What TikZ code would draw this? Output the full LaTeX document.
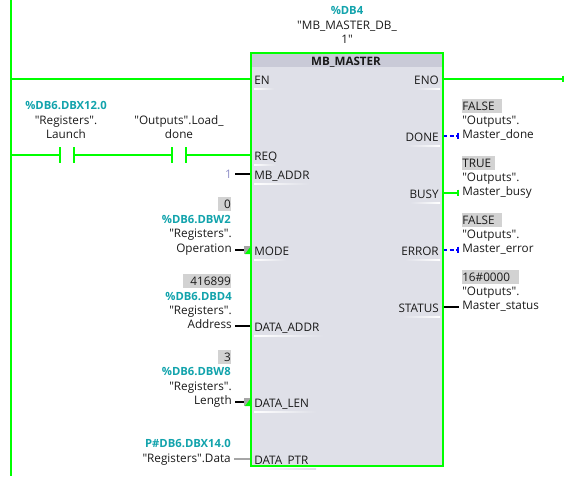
\documentclass[tikz,border=0pt]{standalone}
\usepackage{fontspec}
\setmainfont{Open Sans}[Ligatures=TeXOff]
\usetikzlibrary{arrows.meta}
\definecolor{rung}{HTML}{00FF00}
\definecolor{sig}{HTML}{0000FF}
\definecolor{ink}{HTML}{1A1A1A}
\definecolor{addr}{HTML}{12A3AC}
\definecolor{valgrey}{HTML}{D2D2D2}
\definecolor{fbhead}{HTML}{C9CAD7}
\definecolor{fbbody}{HTML}{DFE0E8}
\definecolor{wiregrey}{HTML}{A6A6A6}
\definecolor{constv}{HTML}{8F8FC8}
\tikzset{
  txt/.style={font=\fontsize{8.8}{10}\selectfont,ink,inner ysep=0pt,inner xsep=2.25pt,text height=8pt,text depth=1.5pt},
  adr/.style={addr,font=\fontsize{8.45}{10}\selectfont\bfseries},
  lft/.style={txt,anchor=east},
  rgt/.style={txt,anchor=west},
  mid/.style={txt,anchor=center},
  vall/.style={txt,anchor=east,fill=valgrey,inner xsep=0pt,minimum height=10.5pt,align=right},
  valr/.style={txt,anchor=west,fill=valgrey,inner xsep=0pt,minimum height=10.5pt,align=left},
  pinl/.style={txt,anchor=west,inner xsep=2.25pt},
  pinr/.style={txt,anchor=east,inner xsep=3pt},
  rungw/.style={rung,line width=1.5pt},
  boolw/.style={line width=1.5pt,-{Bar[width=5pt,line width=1.2pt]}},
  blackw/.style={black,line width=1.5pt},
  contact/.style={minimum width=10.5pt,minimum height=11.5pt,inner sep=0pt},
}
\begin{document}
\begin{tikzpicture}[x=.75pt,y=-.75pt,line cap=butt]
  \useasboundingbox (0,0) rectangle (574,476);

  % Function block body
  \fill[fbbody] (251,53) rectangle (443,466);
  \fill[fbhead] (251,53) rectangle (443,67);
  \node[mid,font=\fontsize{8.7}{10}\selectfont\bfseries] (fbtitle) at (346,61) {MB\_MASTER};
  \node[mid,adr] (dbnum) at (347,10) {\%DB4};
  \node[mid] (dbname) at (347,25) {"MB\_MASTER\_DB\_};
  \node[mid] (dbname2) at (347,39) {1"};

  % Pins, white strip under each label
  \foreach \nm/\lab/\y/\w in {EN/EN/80/20,REQ/REQ/156/22,ADDR/MB\_ADDR/175/55,MODE/MODE/251/32,
      DADDR/DATA\_ADDR/327/70,DLEN/DATA\_LEN/403/62,DPTR/DATA\_PTR/460/62}{
    \node[pinl] (pin\nm) at (251,\y) {\lab};
    \shade[left color=white,right color=fbbody] (254,\y+8) rectangle (254+\w,\y+9);
  }
  \foreach \nm/\lab/\y/\w in {ENO/ENO/80/24,DONE/DONE/137/33,BUSY/BUSY/194/30,ERROR/ERROR/251/35,STATUS/STATUS/308/38}{
    \node[pinr] (pin\nm) at (443,\y) {\lab};
    \shade[left color=fbbody,right color=white] (440-\w,\y+8) rectangle (440,\y+9);
  }

  % Power rail and rungs
  \draw[rungw] (11,0)--(11,476);
  \coordinate (railEN) at (11,79);
  \coordinate (railREQ) at (11,155);
  \coordinate (endENO) at (564,79);
  \draw[rungw] (railEN)--(pinEN.west|-railEN);
  \draw[boolw,rung] (pinENO.east|-endENO)--(endENO);

  \node[contact] (cLaunch) at (67,155) {};
  \node[contact] (cLoad) at (179,155) {};
  \foreach \c in {cLaunch,cLoad}{
    \draw[rungw] (\c.north west)--(\c.south west);
    \draw[rungw] (\c.north east)--(\c.south east);
  }
  \draw[rungw] (railREQ)--(cLaunch.west);
  \draw[rungw] (cLaunch.east)--(cLoad.west);
  \draw[rungw] (cLoad.east)--(pinREQ.west|-cLoad);
  \node[mid,adr] (aLaunch) at (66,105) {\%DB6.DBX12.0};
  \node[mid] (tLaunch) at (66,120) {"Registers".};
  \node[mid] (tLaunch2) at (66,134) {Launch};
  \node[mid] (tLoad) at (179,120) {"Outputs".Load\_};
  \node[mid] (tLoad2) at (179,134) {done};

  % Left inputs
  \node[lft,constv] (tOne) at (235,174) {1};
  \node[vall,text width=9.75pt] (vMode) at (231,204) {0};
  \node[lft,adr] (aMode) at (234,219) {\%DB6.DBW2};
  \node[lft] (tMode) at (235,233) {"Registers".};
  \node[lft] (tMode2) at (235,248) {Operation};
  \node[vall,text width=36pt] (vAddr) at (231,281) {416899};
  \node[lft,adr] (aAddr) at (235,296) {\%DB6.DBD4};
  \node[lft] (tAddr) at (235,310) {"Registers".};
  \node[lft] (tAddr2) at (235,324) {Address};
  \node[vall,text width=9.75pt] (vLen) at (231,357) {3};
  \node[lft,adr] (aLen) at (234,371) {\%DB6.DBW8};
  \node[lft] (tLen) at (235,386) {"Registers".};
  \node[lft] (tLen2) at (235,400) {Length};
  \node[lft,adr] (aPtr) at (234,443) {P\#DB6.DBX14.0};
  \node[lft] (tPtr) at (234,458) {"Registers".Data};

  \draw[blackw] (tOne.east)--(pinADDR.west|-tOne);
  \draw[blackw] (tMode2.east|-0,250)--(pinMODE.west|-0,250);
  \draw[blackw] (tAddr2.east|-0,326)--(pinDADDR.west|-0,326);
  \draw[blackw] (tLen2.east|-0,402)--(pinDLEN.west|-0,402);
  \draw[wiregrey,line width=1.5pt] (tPtr.east|-0,459)--(pinDPTR.west|-0,459);

  % Implicit conversion marks
  \foreach \y in {250,402}{
    \fill[wiregrey] (244,\y-4) rectangle (251,\y+4);
    \fill[rung] (251,\y-4)--(251,\y+4)--(245,\y+4)--cycle;
  }

  % Right outputs
  \node[valr,text width=30pt] (vDone) at (462,106) {FALSE};
  \node[rgt] (tDone) at (459,120) {"Outputs".};
  \node[rgt] (tDone2) at (459,134) {Master\_done};
  \node[valr,text width=24.75pt] (vBusy) at (462,163) {TRUE};
  \node[rgt] (tBusy) at (459,177) {"Outputs".};
  \node[rgt] (tBusy2) at (459,191) {Master\_busy};
  \node[valr,text width=30pt] (vErr) at (462,220) {FALSE};
  \node[rgt] (tErr) at (459,234) {"Outputs".};
  \node[rgt] (tErr2) at (459,248) {Master\_error};
  \node[valr,text width=42.75pt] (vStat) at (462,277) {16\#0000};
  \node[rgt] (tStat) at (459,291) {"Outputs".};
  \node[rgt] (tStat2) at (459,305) {Master\_status};

  \draw[boolw,sig,densely dashed] (pinDONE.east|-0,136)--(tDone2.west|-0,136);
  \draw[boolw,rung] (pinBUSY.east|-0,193)--(tBusy2.west|-0,193);
  \draw[boolw,sig,densely dashed] (pinERROR.east|-0,250)--(tErr2.west|-0,250);
  \draw[blackw] (pinSTATUS.east|-0,307)--(tStat2.west|-0,307);

  % Block outline on top of the wires
  \draw[rungw] (251,53) rectangle (443,466);
\end{tikzpicture}
\end{document}
